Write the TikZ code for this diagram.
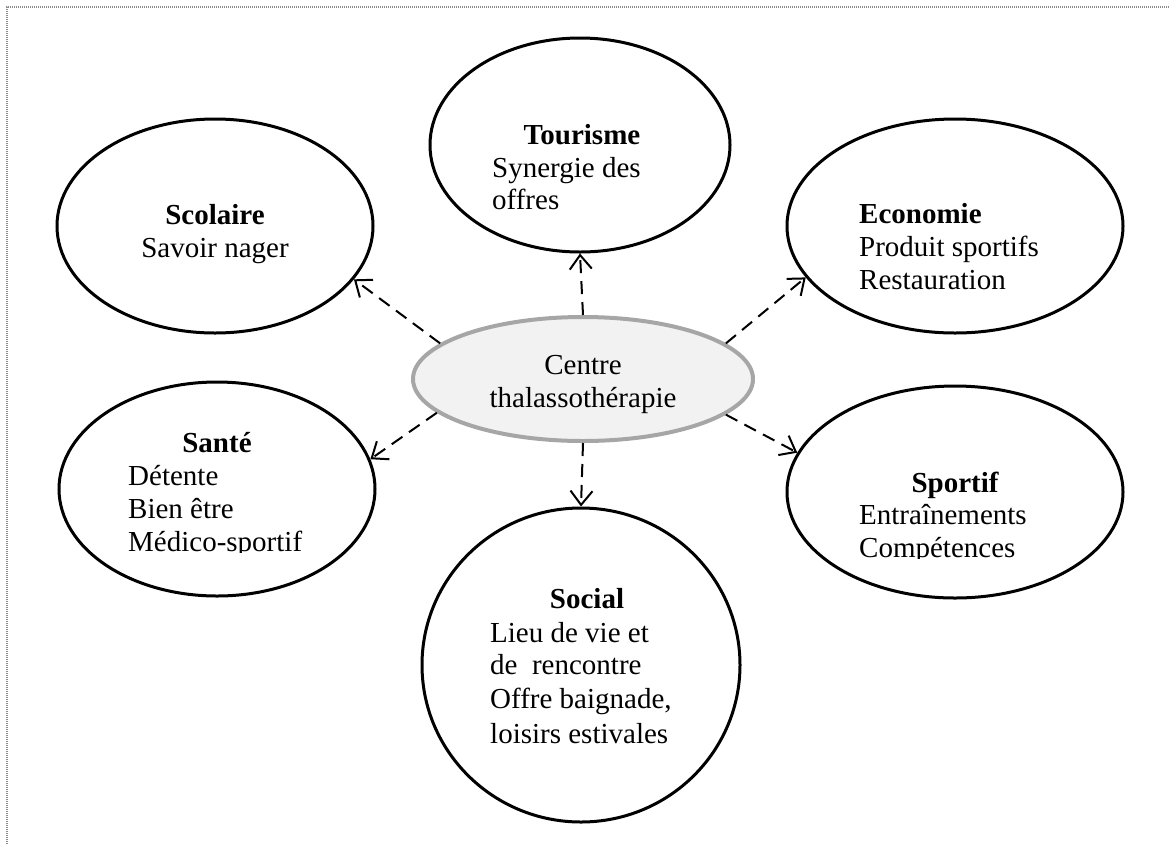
\documentclass[tikz,border=0pt]{standalone}
\usepackage{fontspec}
\setmainfont{Liberation Serif}
\usetikzlibrary{shapes.geometric,arrows.meta}
\definecolor{rimgray}{HTML}{A6A6A6}
\definecolor{fillgray}{HTML}{F2F2F2}
\definecolor{framegray}{HTML}{8C8C8C}
\tikzset{
  bubble/.style={ellipse,draw=black,line width=3pt,inner sep=0pt,fill=white},
  hub/.style={ellipse,draw=rimgray,fill=fillgray,line width=4pt,inner sep=0pt,
    minimum width=340pt,minimum height=124pt},
  txt/.style={inner sep=0pt,font=\fontsize{29}{33}\selectfont},
  head/.style={txt,font=\fontsize{29}{33}\selectfont\bfseries,anchor=base},
  lline/.style={txt,anchor=base west},
  cline/.style={txt,anchor=base},
  link/.style={line width=2pt,dash pattern=on 13pt off 8pt,
    -{Straight Barb[length=14pt,width=22pt,line width=2pt]}},
  frameline/.style={draw=framegray,line width=1.2pt,dash pattern=on 1pt off 1pt}
}
\begin{document}
\begin{tikzpicture}[x=1pt,y=-1pt]
\useasboundingbox (0,0) rectangle (1169,844);
% frame
\coordinate (fa) at (7,844);
\coordinate (fb) at (7,7);
\coordinate (fc) at (1169,7);
\draw[frameline] (fa) -- (fb) -- (fc);

% bubbles
\node[bubble,minimum width=300pt,minimum height=214pt] (tour) at (580,145) {};
\node[bubble,minimum width=316pt,minimum height=214pt] (scol) at (215,226) {};
\node[bubble,minimum width=336pt,minimum height=214pt] (eco) at (955,226) {};
\node[bubble,minimum width=316pt,minimum height=214pt] (sante) at (217,489) {};
\node[bubble,minimum width=336pt,minimum height=212pt] (sport) at (955,492) {};
\node[bubble,minimum width=318pt,minimum height=314pt] (social) at (581,665) {};
\node[hub] (centre) at (583,379) {};

% connectors
\draw[link] (centre.north) -- (tour.south);
\draw[link] (centre.south) -- (social.north);
\draw[link] (centre.166.8) -- (scol.339.7);
\draw[link] (centre.193.1) -- (sante.11.7);
\draw[link] (centre.14.4) -- (eco.199.7);
\draw[link] (centre.346.3) -- (sport.166.3);

% texts
\node[cline] (c1) at (583,374) {Centre};
\node[cline] (c2) at (583,407) {thalassothérapie};

\node[head] (t0) at (582,144) {Tourisme};
\node[lline] (t1) at (492,177) {Synergie des};
\node[lline] (t2) at (492,209) {offres};

\node[head] (s0) at (215,224) {Scolaire};
\node[cline] (s1) at (215,257) {Savoir nager};

\node[lline,font=\fontsize{29}{33}\selectfont\bfseries] (e0) at (859,223) {Economie};
\node[lline] (e1) at (859,256) {Produit sportifs};
\node[lline] (e2) at (859,289) {Restauration};

\node[head] (h0) at (217,452) {Santé};
\node[lline] (h1) at (128,485) {Détente};
\node[lline] (h2) at (128,518) {Bien être};
\begin{scope}
\clip (0,0) rectangle (1169,552);
\node[lline] (h3) at (128,551) {Médico-sportif};
\end{scope}

\node[head] (p0) at (955,492) {Sportif};
\node[lline] (p1) at (859,524) {Entraînements};
\begin{scope}
\clip (0,0) rectangle (1169,558);
\node[lline] (p2) at (859,557) {Compétences};
\end{scope}

\node[head] (o0) at (587,608) {Social};
\node[lline] (o1) at (490,642) {Lieu de vie et};
\node[lline] (o2) at (490,674) {de\ \ rencontre};
\node[lline] (o3) at (490,708) {Offre baignade,};
\node[lline] (o4) at (490,743) {loisirs estivales};
\end{tikzpicture}
\end{document}
